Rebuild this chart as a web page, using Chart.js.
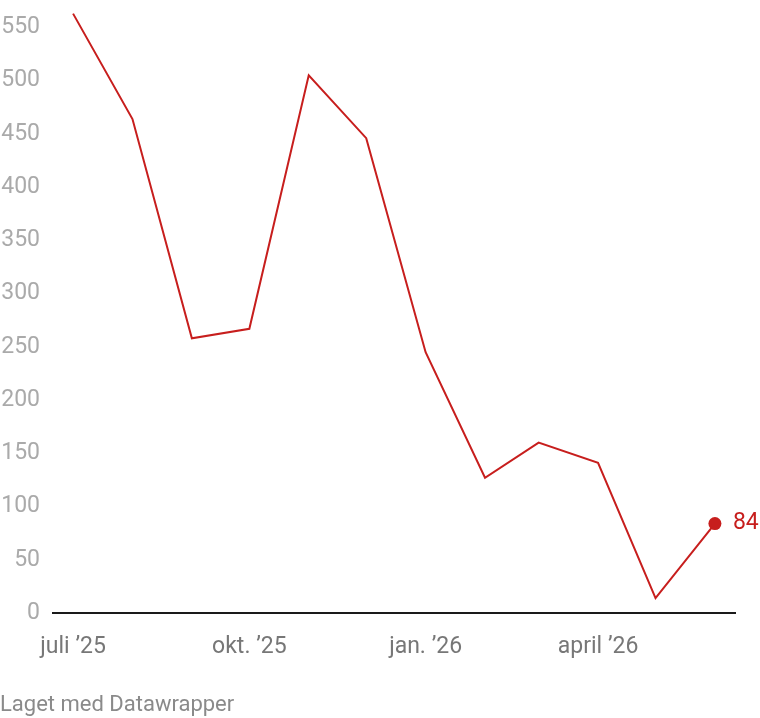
<!DOCTYPE html>
<html>
<head>
<meta charset="utf-8">
<script src="https://cdn.jsdelivr.net/npm/chart.js@4/dist/chart.umd.min.js"></script>
<style>
  html, body { margin: 0; padding: 0; background: #fff; }
  #wrap { position: relative; width: 760px; height: 718px; }
  #credit { position: absolute; left: 0; top: 691px; font-family: Roboto, sans-serif; font-size: 22px; color: #8a8a8a; }
</style>
</head>
<body>
<div id="wrap">
  <canvas id="c" width="760" height="718"></canvas>
  <div id="credit">Laget med Datawrapper</div>
</div>
<script>
const dates = ['2025-07-01','2025-08-01','2025-09-01','2025-10-01','2025-11-01','2025-12-01','2026-01-01','2026-02-01','2026-03-01','2026-04-01','2026-05-01','2026-06-01'];
const values = [563, 464, 258, 267, 505, 446, 245, 127, 160, 141, 14, 84];
const xTickDates = ['2025-07-01','2025-10-01','2026-01-01','2026-04-01'];
const xTickLabels = ['juli ’25','okt. ’25','jan. ’26','april ’26'];
const yTicks = [0, 50, 100, 150, 200, 250, 300, 350, 400, 450, 500, 550];

const RED = '#c71e1d';
const lastIdx = values.length - 1;
const DAY = 86400000;
const t0 = Date.parse(dates[0] + 'T00:00:00Z');
const dayOf = (d) => Math.round((Date.parse(d + 'T00:00:00Z') - t0) / DAY);
const xs = dates.map(dayOf);
const tickXs = xTickDates.map(dayOf);

const endLabel = {
  id: 'endLabel',
  afterDatasetsDraw(chart) {
    const meta = chart.getDatasetMeta(0);
    const pt = meta.data[lastIdx];
    const ctx = chart.ctx;
    ctx.save();
    ctx.fillStyle = RED;
    ctx.font = '23px Roboto, sans-serif';
    ctx.textAlign = 'left';
    ctx.textBaseline = 'middle';
    ctx.fillText(String(values[lastIdx]), pt.x + 18, pt.y);
    ctx.restore();
  }
};

new Chart(document.getElementById('c'), {
  type: 'line',
  data: {
    datasets: [{
      data: values.map((v, i) => ({ x: xs[i], y: v })),
      borderColor: RED,
      borderWidth: 2,
      tension: 0,
      fill: false,
      pointRadius: values.map((v, i) => i === lastIdx ? 6.5 : 0),
      pointBackgroundColor: RED,
      pointBorderWidth: 0,
      clip: false
    }]
  },
  options: {
    responsive: false,
    animation: false,
    events: [],
    layout: { padding: { top: 5, right: 24, left: 0, bottom: 0 } },
    plugins: { legend: { display: false }, tooltip: { enabled: false } },
    scales: {
      x: {
        type: 'linear',
        min: xs[0] - 11,
        max: xs[lastIdx] + 11,
        afterBuildTicks(axis) { axis.ticks = tickXs.map(v => ({ value: v })); },
        afterFit(axis) { axis.height = 105; axis.paddingLeft = 0; axis.paddingRight = 0; },
        grid: { display: false },
        border: { display: false },
        ticks: {
          autoSkip: false,
          maxRotation: 0,
          padding: 12,
          color: '#777777',
          font: { family: 'Roboto, sans-serif', size: 23 },
          callback: (v) => { const i = tickXs.indexOf(v); return i >= 0 ? xTickLabels[i] : ''; }
        }
      },
      y: {
        min: 0,
        max: 569.7,
        afterBuildTicks(axis) { axis.ticks = yTicks.map(v => ({ value: v })); },
        afterFit(axis) { axis.width = 52; axis.paddingTop = 0; axis.paddingBottom = 0; },
        border: { display: false },
        grid: {
          drawTicks: false,
          lineWidth: 2,
          color: (c) => c.tick && c.tick.value === 0 ? '#1a1a1a' : 'rgba(0,0,0,0)'
        },
        ticks: {
          padding: 12,
          color: '#aaaaaa',
          font: { family: 'Roboto, sans-serif', size: 23 }
        }
      }
    }
  },
  plugins: [endLabel]
});
</script>
</body>
</html>
